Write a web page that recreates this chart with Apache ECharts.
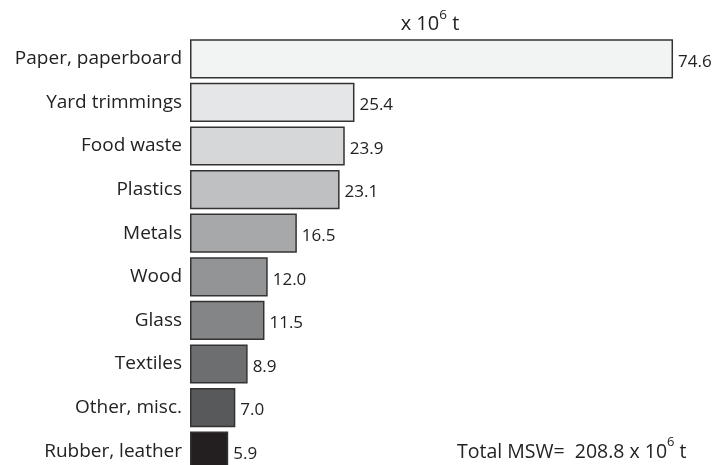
<!DOCTYPE html>
<html>
<head>
<meta charset="utf-8">
<script src="https://cdn.jsdelivr.net/npm/echarts@6/dist/echarts.min.js"></script>
<style>html,body{margin:0;padding:0;background:#fff}#c{width:715px;height:465px}</style>
</head>
<body>
<div id="c"></div>
<script>
const categories = ["Paper, paperboard","Yard trimmings","Food waste","Plastics","Metals","Wood","Glass","Textiles","Other, misc.","Rubber, leather"];
const values = [74.6, 25.4, 23.9, 23.1, 16.5, 12.0, 11.5, 8.9, 7.0, 5.9];
const barColors = ["#f2f3f3","#e5e6e7","#d6d7d8","#bfc0c2","#a7a8aa","#939496","#848587","#6d6e70","#58595b","#231f20"];
const FONT = "Open Sans";

const chart = echarts.init(document.getElementById('c'), null, {renderer:'canvas'});
chart.setOption({
  animation: false,
  backgroundColor: '#fff',
  textStyle: {fontFamily: FONT},
  title: {
    text: '{a|x 10}{s|6}{a| t}',
    left: 425, top: 3, textAlign: 'center',
    textStyle: {
      fontWeight: 'normal',
      rich: {
        a: {fontFamily: FONT, fontSize: 20, fontWeight: 'normal', color: '#222', verticalAlign: 'bottom', lineHeight: 26},
        s: {fontFamily: FONT, fontSize: 13.5, fontWeight: 'normal', color: '#222', verticalAlign: 'top', lineHeight: 26, padding: [0,0,5,0]}
      }
    }
  },
  grid: {left: 190, right: 7, top: 37, height: 436, containLabel: false, outerBoundsMode: 'none'},
  xAxis: {type: 'value', min: 0, max: 80, show: false},
  yAxis: {
    type: 'category', data: categories, inverse: true,
    axisLine: {show: false}, axisTick: {show: false}, splitLine: {show: false},
    axisLabel: {fontFamily: FONT, fontSize: 19, color: '#222', margin: 8}
  },
  series: [{
    type: 'bar',
    data: values.map((v, i) => ({value: v, itemStyle: {color: barColors[i]}})),
    barCategoryGap: '10%',
    itemStyle: {borderColor: '#333', borderWidth: 1.5},
    label: {
      show: true, position: 'right', distance: 5, offset: [0, 3],
      fontFamily: FONT, fontSize: 17, color: '#222',
      formatter: p => p.value.toFixed(1)
    }
  }],
  graphic: [{
    type: 'text', left: 457, top: 436,
    style: {
      text: '{a|Total MSW=  208.8 x 10}{s|6}{a| t}',
      rich: {
        a: {fontFamily: FONT, fontSize: 19.5, fill: '#222', verticalAlign: 'bottom', lineHeight: 26},
        s: {fontFamily: FONT, fontSize: 13, fill: '#222', verticalAlign: 'top', lineHeight: 26, padding: [0,0,5,0]}
      }
    }
  }]
});
</script>
</body>
</html>
